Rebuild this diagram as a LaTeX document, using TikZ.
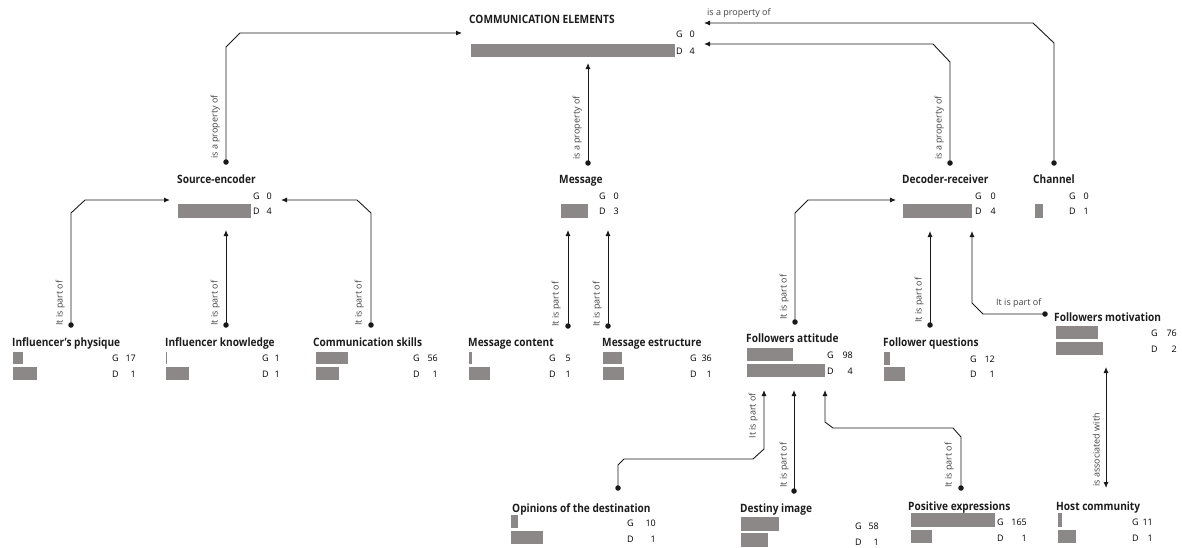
\documentclass[tikz,border=0pt]{standalone}
\usepackage{fontspec}
\setmainfont{Open Sans}
\newfontfamily\titlef[FakeStretch=0.88]{Open Sans}
\usetikzlibrary{arrows.meta}
\definecolor{barc}{RGB}{141,136,136}
\definecolor{txt}{RGB}{28,28,28}
\definecolor{linec}{RGB}{25,25,25}
\definecolor{lblc}{RGB}{65,65,65}
\newcommand\gbar[4]{\fill[barc] (#1,#3) rectangle (#2,#4);}
\newcommand\stat[6]{\node[gd] (#1) at (#3,#5) {#2}; \node[num] (#1n) at (#4,#5) {#6};}
\begin{document}
\begin{tikzpicture}[x=1pt,y=-1pt,
 title/.style={font=\titlef\bfseries\fontsize{11.5}{13}\selectfont, anchor=base west, inner sep=0, text=txt},
 gd/.style={font=\fontsize{9}{10}\selectfont, anchor=base west, inner sep=0, text=black},
 num/.style={gd, anchor=base east},
 lbl/.style={font=\fontsize{9}{10}\selectfont, inner sep=0, text=lblc},
 vlbl/.style={lbl, rotate=90},
 conn/.style={draw=linec, line width=0.9pt, -{Latex[length=6pt,width=5pt]}},
 dot/.style={circle, fill=linec, inner sep=0, minimum size=5.5pt}]
\useasboundingbox (0,0) rectangle (1182,547);

% titles
\node[title] (ce) at (469,23.5) {COMMUNICATION ELEMENTS};
\node[title] (se) at (177,183.5) {Source-encoder};
\node[title] (msg) at (559,183.5) {Message};
\node[title] (dr) at (902,183.5) {Decoder-receiver};
\node[title] (ch) at (1033,183.5) {Channel};
\node[title] (ip) at (12,346.5) {Influencer’s physique};
\node[title] (ik) at (165,346.5) {Influencer knowledge};
\node[title] (cs) at (313,346.5) {Communication skills};
\node[title] (mc) at (468,346.5) {Message content};
\node[title] (me) at (602,346.5) {Message estructure};
\node[title] (fa) at (746,342.5) {Followers attitude};
\node[title] (fq) at (883,346.5) {Follower questions};
\node[title] (fm) at (1054,321.5) {Followers motivation};
\node[title] (od) at (512,512.5) {Opinions of the destination};
\node[title] (di) at (740,512.5) {Destiny image};
\node[title] (pe) at (908,510.5) {Positive expressions};
\node[title] (hc) at (1056,510.5) {Host community};

% stats and bars
\stat{ce-g}{G}{676}{695}{37.2}{0} \stat{ce-dd}{D}{676}{695}{54.2}{4}
\gbar{471}{675}{44}{57}
\stat{se-g}{G}{253}{272}{199.2}{0} \stat{se-dd}{D}{253}{272}{214.2}{4}
\gbar{178}{251}{204}{218}
\stat{msg-g}{G}{599}{619}{199.2}{0} \stat{msg-dd}{D}{599}{619}{214.2}{3}
\gbar{561}{588}{204}{218}
\stat{dr-g}{G}{975}{996}{199.2}{0} \stat{dr-dd}{D}{975}{996}{214.2}{4}
\gbar{903}{972}{204}{218}
\stat{ch-g}{G}{1069}{1089}{199.2}{0} \stat{ch-dd}{D}{1069}{1089}{214.2}{1}
\gbar{1035}{1043}{204}{218}
\stat{ip-g}{G}{112}{136}{361.2}{17} \stat{ip-dd}{D}{112}{136}{377.2}{1}
\gbar{13}{23}{352}{364} \gbar{13}{37}{367}{380}
\stat{ik-g}{G}{262}{280}{361.2}{1} \stat{ik-dd}{D}{262}{280}{377.2}{1}
\gbar{165.5}{166.5}{352}{364} \gbar{166}{189}{367}{380}
\stat{cs-g}{G}{413}{438}{361.2}{56} \stat{cs-dd}{D}{413}{438}{377.2}{1}
\gbar{316}{348}{352}{364} \gbar{316}{339}{367}{380}
\stat{mc-g}{G}{549}{571}{361.2}{5} \stat{mc-dd}{D}{549}{571}{377.2}{1}
\gbar{469}{472}{352}{364} \gbar{469}{490}{367}{380}
\stat{me-g}{G}{690}{712}{361.2}{36} \stat{me-dd}{D}{690}{712}{377.2}{1}
\gbar{603}{622}{352}{364} \gbar{603}{624}{367}{380}
\stat{fa-g}{G}{827}{853}{358.2}{98} \stat{fa-dd}{D}{827}{853}{374.2}{4}
\gbar{747}{793}{348}{361} \gbar{747}{825}{364}{377}
\stat{fq-g}{G}{970}{995}{362.2}{12} \stat{fq-dd}{D}{970}{995}{377.2}{1}
\gbar{884}{890}{352}{365} \gbar{884}{905}{367}{381}
\stat{fm-g}{G}{1151}{1177}{336.2}{76} \stat{fm-dd}{D}{1151}{1177}{352.2}{2}
\gbar{1056}{1098}{326}{339} \gbar{1056}{1103}{342}{355}
\stat{od-g}{G}{627}{656}{526.2}{10} \stat{od-dd}{D}{627}{656}{542.2}{1}
\gbar{511}{518}{515}{528} \gbar{511}{543}{531}{544}
\stat{di-g}{G}{855}{879}{529.2}{58} \stat{di-dd}{D}{855}{879}{545.2}{1}
\gbar{741}{779}{517}{531} \gbar{741}{768}{533}{547}
\stat{pe-g}{G}{997}{1027}{525.2}{165} \stat{pe-dd}{D}{997}{1027}{541.2}{1}
\gbar{911}{995}{513}{527} \gbar{911}{932}{530}{543}
\stat{hc-g}{G}{1132}{1153}{525.2}{11} \stat{hc-dd}{D}{1132}{1153}{541.2}{1}
\gbar{1058}{1062}{513}{527} \gbar{1058}{1076}{530}{543}

% dots
\node[dot] (se-d) at (226,162) {};
\node[dot] (msg-d) at (588,163) {};
\node[dot] (dr-d) at (950,163) {};
\node[dot] (ch-d) at (1054,163) {};
\node[dot] (ip-d) at (71,325) {};
\node[dot] (ik-d) at (226,325) {};
\node[dot] (cs-d) at (371,325) {};
\node[dot] (mc-d) at (568,326) {};
\node[dot] (me-d) at (608,326) {};
\node[dot] (fa-d) at (795,322) {};
\node[dot] (fq-d) at (930,325) {};
\node[dot] (fm-d) at (1045,314) {};
\node[dot] (od-d) at (618,488) {};
\node[dot] (di-d) at (794,491) {};
\node[dot] (pe-d) at (961,488) {};

% arrow targets
\coordinate (ce-a1) at (462,33);
\coordinate (ce-a2) at (588,63);
\coordinate (ce-a3) at (704,44);
\coordinate (ce-a4) at (704,23);
\coordinate (se-a1) at (170,200);
\coordinate (se-a2) at (226,230);
\coordinate (se-a3) at (281,200);
\coordinate (msg-a1) at (568,230);
\coordinate (msg-a2) at (608,230);
\coordinate (dr-a1) at (896,200);
\coordinate (dr-a2) at (930,231);
\coordinate (dr-a3) at (972,231);
\coordinate (fa-a1) at (764,390);
\coordinate (fa-a2) at (794,390);
\coordinate (fa-a3) at (825,390);
\coordinate (fm-a) at (1106,367);
\coordinate (hc-a) at (1106,488);

% connectors
\draw[conn] (se-d.center) -- (226,47) -- (240,33) -- (ce-a1);
\draw[conn] (msg-d.center) -- (ce-a2);
\draw[conn] (dr-d.center) -- (950,62) -- (933,44) -- (ce-a3);
\draw[conn] (ch-d.center) -- (1054,43) -- (1033,23) -- (ce-a4);
\draw[conn] (ip-d.center) -- (71,213) -- (85,200) -- (se-a1);
\draw[conn] (ik-d.center) -- (se-a2);
\draw[conn] (cs-d.center) -- (371,213) -- (357,200) -- (se-a3);
\draw[conn] (mc-d.center) -- (msg-a1);
\draw[conn] (me-d.center) -- (msg-a2);
\draw[conn] (fa-d.center) -- (795,213) -- (808,200) -- (dr-a1);
\draw[conn] (fq-d.center) -- (dr-a2);
\draw[conn] (fm-d.center) -- (983,314) -- (972,303) -- (dr-a3);
\draw[conn] (od-d.center) -- (618,465) -- (624,459) -- (753,459) -- (764,449) -- (fa-a1);
\draw[conn] (di-d.center) -- (fa-a2);
\draw[conn] (pe-d.center) -- (961,437) -- (953,428) -- (833,428) -- (825,422) -- (fa-a3);
\draw[conn, {Latex[length=6pt,width=5pt]}-{Latex[length=6pt,width=5pt]}] (fm-a) -- (hc-a);

% connector labels
\node[vlbl, anchor=south west] (l-se) at (220,159) {is a property of};
\node[vlbl, anchor=south west] (l-msg) at (582,160) {is a property of};
\node[vlbl, anchor=south west] (l-dr) at (944,160) {is a property of};
\node[lbl, anchor=south west] (l-ch) at (707,18) {is a property of};
\node[vlbl, anchor=south west] (l-ip) at (65,326) {It is part of};
\node[vlbl, anchor=south west] (l-ik) at (220,326) {It is part of};
\node[vlbl, anchor=south west] (l-cs) at (364,326) {It is part of};
\node[vlbl, anchor=south west] (l-mc) at (561,327) {It is part of};
\node[vlbl, anchor=south west] (l-me) at (602,327) {It is part of};
\node[vlbl, anchor=south west] (l-fa) at (789,320) {It is part of};
\node[vlbl, anchor=south west] (l-fq) at (924,323) {It is part of};
\node[lbl, anchor=south west] (l-fm) at (996,308) {It is part of};
\node[vlbl, anchor=south east] (l-od) at (758,393) {It is part of};
\node[vlbl, anchor=south west] (l-di) at (789,488) {It is part of};
\node[vlbl, anchor=south west] (l-pe) at (954,488) {It is part of};
\node[vlbl, anchor=south west] (l-hc) at (1100,487) {is associated with};
\end{tikzpicture}
\end{document}
